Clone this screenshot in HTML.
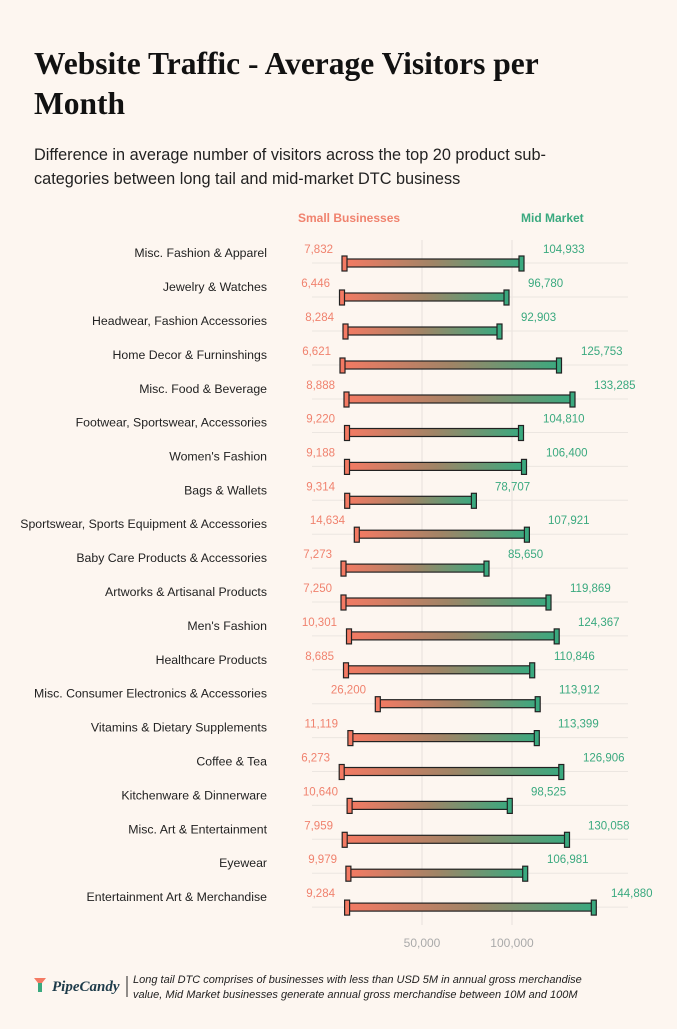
<!DOCTYPE html>
<html><head><meta charset="utf-8"><style>
body{margin:0;background:#fdf6f0;width:677px;height:1024px;overflow:hidden;font-family:"Liberation Sans",sans-serif;}
.c{font-size:12.3px;fill:#222;text-anchor:end}
.s{font-size:11.5px;fill:#f0826e;text-anchor:end}
.m{font-size:11.5px;fill:#3aa97f}
.bl{stroke:#ece6e1}
.b{fill:url(#g);stroke:#222;stroke-width:1.2}
.l{fill:#f47a63;stroke:#222;stroke-width:1.2}
.r{fill:#3aa97f;stroke:#222;stroke-width:1.2}
</style></head><body>
<svg width="677" height="1024" xmlns="http://www.w3.org/2000/svg" font-family="Liberation Sans, sans-serif">
<defs><linearGradient id="g" x1="0" x2="1" y1="0" y2="0"><stop offset="0" stop-color="#f47a63"/><stop offset="0.5" stop-color="#a08466"/><stop offset="1" stop-color="#3aa97f"/></linearGradient></defs>
<rect width="677" height="1024" fill="#fdf6f0"/>
<text x="34" y="74" font-family="Liberation Serif, serif" font-size="31.5" font-weight="bold" fill="#111">Website Traffic - Average Visitors per</text>
<text x="34" y="114" font-family="Liberation Serif, serif" font-size="31.5" font-weight="bold" fill="#111">Month</text>
<text x="34" y="160" font-size="16.3" fill="#222">Difference in average number of visitors across the top 20 product sub-</text>
<text x="34" y="184" font-size="16.3" fill="#222">categories between long tail and mid-market DTC business</text>
<text x="298" y="222" font-size="12" font-weight="bold" fill="#f0826e">Small Businesses</text>
<text x="521" y="222" font-size="12" font-weight="bold" fill="#3aa97f">Mid Market</text>
<line x1="422" y1="240" x2="422" y2="925" stroke="#e6e0db"/>
<line x1="512" y1="240" x2="512" y2="925" stroke="#e6e0db"/>
<text x="422" y="947" font-size="12" fill="#aaa" text-anchor="middle">50,000</text>
<text x="512" y="947" font-size="12" fill="#aaa" text-anchor="middle">100,000</text>

<g transform="translate(0,263)"><line class="bl" x1="312" x2="628"/><text class="c" x="267" y="-6">Misc. Fashion &amp; Apparel</text><text class="s" x="333" y="-10">7,832</text><text class="m" x="543" y="-10">104,933</text><rect class="b" x="345" y="-4" width="176" height="8"/><rect class="l" x="342" y="-7" width="5" height="15"/><rect class="r" x="519" y="-7" width="5" height="15"/></g>
<g transform="translate(0,297)"><line class="bl" x1="312" x2="628"/><text class="c" x="267" y="-6">Jewelry &amp; Watches</text><text class="s" x="330" y="-10">6,446</text><text class="m" x="528" y="-10">96,780</text><rect class="b" x="342.5" y="-4" width="164" height="8"/><rect class="l" x="339.5" y="-7" width="5" height="15"/><rect class="r" x="504" y="-7" width="5" height="15"/></g>
<g transform="translate(0,331)"><line class="bl" x1="312" x2="628"/><text class="c" x="267" y="-6">Headwear, Fashion Accessories</text><text class="s" x="334" y="-10">8,284</text><text class="m" x="521" y="-10">92,903</text><rect class="b" x="346" y="-4" width="153" height="8"/><rect class="l" x="343" y="-7" width="5" height="15"/><rect class="r" x="497" y="-7" width="5" height="15"/></g>
<g transform="translate(0,365)"><line class="bl" x1="312" x2="628"/><text class="c" x="267" y="-6">Home Decor &amp; Furninshings</text><text class="s" x="331" y="-10">6,621</text><text class="m" x="581" y="-10">125,753</text><rect class="b" x="343" y="-4" width="216" height="8"/><rect class="l" x="340" y="-7" width="5" height="15"/><rect class="r" x="556.5" y="-7" width="5" height="15"/></g>
<g transform="translate(0,399)"><line class="bl" x1="312" x2="628"/><text class="c" x="267" y="-6">Misc. Food &amp; Beverage</text><text class="s" x="335" y="-10">8,888</text><text class="m" x="594" y="-10">133,285</text><rect class="b" x="347" y="-4" width="225" height="8"/><rect class="l" x="344" y="-7" width="5" height="15"/><rect class="r" x="570" y="-7" width="5" height="15"/></g>
<g transform="translate(0,432.5)"><line class="bl" x1="312" x2="628"/><text class="c" x="267" y="-6">Footwear, Sportswear, Accessories</text><text class="s" x="335" y="-10">9,220</text><text class="m" x="543" y="-10">104,810</text><rect class="b" x="347.5" y="-4" width="173" height="8"/><rect class="l" x="344.5" y="-7" width="5" height="15"/><rect class="r" x="518.5" y="-7" width="5" height="15"/></g>
<g transform="translate(0,466.4)"><line class="bl" x1="312" x2="628"/><text class="c" x="267" y="-6">Women's Fashion</text><text class="s" x="335" y="-10">9,188</text><text class="m" x="546" y="-10">106,400</text><rect class="b" x="347.5" y="-4" width="176" height="8"/><rect class="l" x="344.5" y="-7" width="5" height="15"/><rect class="r" x="521.5" y="-7" width="5" height="15"/></g>
<g transform="translate(0,500.3)"><line class="bl" x1="312" x2="628"/><text class="c" x="267" y="-6">Bags &amp; Wallets</text><text class="s" x="335" y="-10">9,314</text><text class="m" x="495" y="-10">78,707</text><rect class="b" x="347.7" y="-4" width="126" height="8"/><rect class="l" x="344.7" y="-7" width="5" height="15"/><rect class="r" x="471.4" y="-7" width="5" height="15"/></g>
<g transform="translate(0,534.2)"><line class="bl" x1="312" x2="628"/><text class="c" x="267" y="-6">Sportswear, Sports Equipment &amp; Accessories</text><text class="s" x="345" y="-10">14,634</text><text class="m" x="548" y="-10">107,921</text><rect class="b" x="357.3" y="-4" width="169" height="8"/><rect class="l" x="354.3" y="-7" width="5" height="15"/><rect class="r" x="524.4" y="-7" width="5" height="15"/></g>
<g transform="translate(0,568.1)"><line class="bl" x1="312" x2="628"/><text class="c" x="267" y="-6">Baby Care Products &amp; Accessories</text><text class="s" x="332" y="-10">7,273</text><text class="m" x="508" y="-10">85,650</text><rect class="b" x="344" y="-4" width="142" height="8"/><rect class="l" x="341" y="-7" width="5" height="15"/><rect class="r" x="484" y="-7" width="5" height="15"/></g>
<g transform="translate(0,602)"><line class="bl" x1="312" x2="628"/><text class="c" x="267" y="-6">Artworks &amp; Artisanal Products</text><text class="s" x="332" y="-10">7,250</text><text class="m" x="570" y="-10">119,869</text><rect class="b" x="344" y="-4" width="204" height="8"/><rect class="l" x="341" y="-7" width="5" height="15"/><rect class="r" x="546" y="-7" width="5" height="15"/></g>
<g transform="translate(0,635.9)"><line class="bl" x1="312" x2="628"/><text class="c" x="267" y="-6">Men's Fashion</text><text class="s" x="337" y="-10">10,301</text><text class="m" x="578" y="-10">124,367</text><rect class="b" x="349.5" y="-4" width="207" height="8"/><rect class="l" x="346.5" y="-7" width="5" height="15"/><rect class="r" x="554.2" y="-7" width="5" height="15"/></g>
<g transform="translate(0,669.8)"><line class="bl" x1="312" x2="628"/><text class="c" x="267" y="-6">Healthcare Products</text><text class="s" x="334" y="-10">8,685</text><text class="m" x="554" y="-10">110,846</text><rect class="b" x="346.5" y="-4" width="185" height="8"/><rect class="l" x="343.5" y="-7" width="5" height="15"/><rect class="r" x="529.7" y="-7" width="5" height="15"/></g>
<g transform="translate(0,703.7)"><line class="bl" x1="312" x2="628"/><text class="c" x="267" y="-6">Misc. Consumer Electronics &amp; Accessories</text><text class="s" x="366" y="-10">26,200</text><text class="m" x="559" y="-10">113,912</text><rect class="b" x="378.3" y="-4" width="159" height="8"/><rect class="l" x="375.3" y="-7" width="5" height="15"/><rect class="r" x="535.2" y="-7" width="5" height="15"/></g>
<g transform="translate(0,737.6)"><line class="bl" x1="312" x2="628"/><text class="c" x="267" y="-6">Vitamins &amp; Dietary Supplements</text><text class="s" x="338" y="-10">11,119</text><text class="m" x="558" y="-10">113,399</text><rect class="b" x="350.9" y="-4" width="185.4" height="8"/><rect class="l" x="347.9" y="-7" width="5" height="15"/><rect class="r" x="534.3" y="-7" width="5" height="15"/></g>
<g transform="translate(0,771.5)"><line class="bl" x1="312" x2="628"/><text class="c" x="267" y="-6">Coffee &amp; Tea</text><text class="s" x="330" y="-10">6,273</text><text class="m" x="583" y="-10">126,906</text><rect class="b" x="342.2" y="-4" width="218.6" height="8"/><rect class="l" x="339.2" y="-7" width="5" height="15"/><rect class="r" x="558.8" y="-7" width="5" height="15"/></g>
<g transform="translate(0,805.4)"><line class="bl" x1="312" x2="628"/><text class="c" x="267" y="-6">Kitchenware &amp; Dinnerware</text><text class="s" x="338" y="-10">10,640</text><text class="m" x="531" y="-10">98,525</text><rect class="b" x="350.1" y="-4" width="159.2" height="8"/><rect class="l" x="347.1" y="-7" width="5" height="15"/><rect class="r" x="507.3" y="-7" width="5" height="15"/></g>
<g transform="translate(0,839.3)"><line class="bl" x1="312" x2="628"/><text class="c" x="267" y="-6">Misc. Art &amp; Entertainment</text><text class="s" x="333" y="-10">7,959</text><text class="m" x="588" y="-10">130,058</text><rect class="b" x="345.2" y="-4" width="221.3" height="8"/><rect class="l" x="342.2" y="-7" width="5" height="15"/><rect class="r" x="564.5" y="-7" width="5" height="15"/></g>
<g transform="translate(0,873.2)"><line class="bl" x1="312" x2="628"/><text class="c" x="267" y="-6">Eyewear</text><text class="s" x="337" y="-10">9,979</text><text class="m" x="547" y="-10">106,981</text><rect class="b" x="348.9" y="-4" width="175.8" height="8"/><rect class="l" x="345.9" y="-7" width="5" height="15"/><rect class="r" x="522.7" y="-7" width="5" height="15"/></g>
<g transform="translate(0,907.1)"><line class="bl" x1="312" x2="628"/><text class="c" x="267" y="-6">Entertainment Art &amp; Merchandise</text><text class="s" x="335" y="-10">9,284</text><text class="m" x="611" y="-10">144,880</text><rect class="b" x="347.6" y="-4" width="245.7" height="8"/><rect class="l" x="344.6" y="-7" width="5" height="15"/><rect class="r" x="591.3" y="-7" width="5" height="15"/></g>

<path d="M34 978 h12 l-4 5 h-4z" fill="#f47a63"/><rect x="38" y="983" width="4" height="9" fill="#3aa97f"/>
<text x="52" y="991" font-family="Liberation Serif, serif" font-style="italic" font-weight="bold" font-size="15" fill="#1d3b4a">PipeCandy</text>
<line x1="127" y1="976" x2="127" y2="997" stroke="#222"/>
<text x="133" y="983" font-size="11" font-style="italic" fill="#222">Long tail DTC comprises of businesses with less than USD 5M in annual gross merchandise</text>
<text x="133" y="998" font-size="11" font-style="italic" fill="#222">value, Mid Market businesses generate annual gross merchandise between 10M and 100M</text>
</svg>
</body></html>
